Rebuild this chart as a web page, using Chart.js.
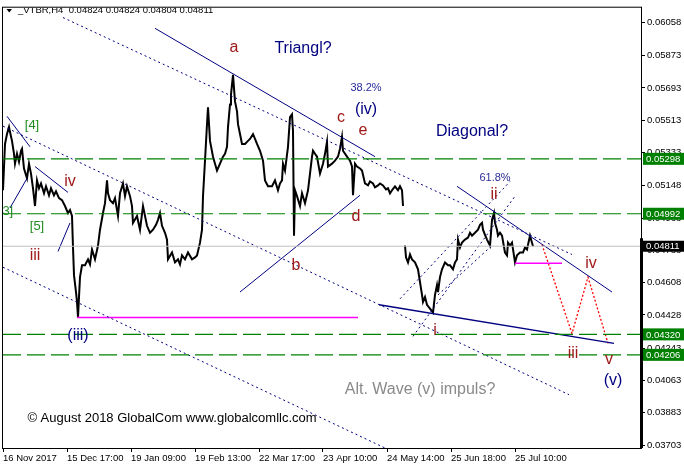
<!DOCTYPE html>
<html><head><meta charset="utf-8">
<script src="https://cdn.jsdelivr.net/npm/chart.js@4.4.1/dist/chart.umd.min.js"></script>
<style>html,body{margin:0;padding:0;background:#fff;overflow:hidden}</style>
</head><body>
<canvas id="c" width="684" height="469" style="display:block;width:684px;height:469px"></canvas>
<script>
// ---------- data ----------
const headerText = '_VTBR,H4  0.04824 0.04824 0.04804 0.04811';
const xTickIdx = [0, 64, 128, 192, 256, 320, 384, 448, 512];
const xTickLabels = ['16 Nov 2017','15 Dec 17:00','19 Jan 09:00','19 Feb 13:00','22 Mar 17:00','23 Apr 10:00','24 May 14:00','25 Jun 18:00','25 Jul 10:00'];
const yTicks = [0.06058,0.05873,0.05693,0.05513,0.05333,0.05148,0.04968,0.04788,0.04608,0.04428,0.04243,0.04063,0.03883,0.03703];

// H4 price path (bar index, price)
const priceIdx = [0,2,4,6,7,9,11,12,14,16,18,19,21,24,26,28,30,32,34,36,38,41,43,46,48,51,53,56,59,62,65,67,69,70,71,73,74,75,76,77,79,82,85,87,89,92,95,97,100,102,104,105,107,110,112,114,115,117,120,122,124,127,129,130,134,137,140,144,147,150,153,155,157,159,162,164,165,169,172,175,177,179,182,185,189,192,194,197,199,200,202,204,205,207,210,212,214,217,220,222,224,225,227,228,230,232,234,235,237,239,242,245,247,250,252,254,257,260,262,265,269,272,275,277,279,280,282,285,287,289,290,291,292,294,297,299,302,305,307,309,310,312,314,317,320,322,324,325,329,332,335,337,339,340,344,347,349,350,352,354,357,359,362,365,367,370,372,375,377,380,383,385,387,389,392,395,397,399,400,401,402,403,405,407,409,412,415,417,419,420,422,424,427,430,432,434,435,437,439,442,445,447,450,452,454,455,457,459,462,465,467,469,472,475,477,479,480,482,484,487,489,491,492,494,495,497,499,502,504,505,507,509,512,514,517,520,522,524,527,529,530];
const priceVal = [0.05123,0.05381,0.05436,0.05475,0.05447,0.05398,0.05326,0.05271,0.05326,0.05282,0.05343,0.05354,0.05244,0.05189,0.05271,0.05216,0.05134,0.05035,0.05178,0.05134,0.05161,0.05106,0.05145,0.05095,0.05134,0.05095,0.05117,0.05079,0.05068,0.05035,0.04996,0.05013,0.04980,0.04804,0.04650,0.04556,0.04501,0.04414,0.04529,0.04639,0.04705,0.04705,0.04738,0.04710,0.04793,0.04738,0.04815,0.04903,0.04996,0.05051,0.05178,0.05106,0.05068,0.05051,0.05079,0.05013,0.04980,0.05106,0.05161,0.05090,0.05145,0.05090,0.05035,0.04941,0.04980,0.04903,0.05035,0.04925,0.04886,0.04903,0.04930,0.04958,0.04996,0.04925,0.04886,0.04848,0.04738,0.04776,0.04721,0.04738,0.04710,0.04760,0.04738,0.04776,0.04738,0.04749,0.04760,0.04831,0.04903,0.05090,0.05288,0.05491,0.05585,0.05398,0.05310,0.05271,0.05233,0.05271,0.05310,0.05326,0.05365,0.05475,0.05601,0.05656,0.05766,0.05618,0.05563,0.05491,0.05436,0.05381,0.05381,0.05398,0.05409,0.05436,0.05409,0.05381,0.05343,0.05288,0.05178,0.05145,0.05145,0.05178,0.05123,0.05161,0.05178,0.05271,0.05233,0.05365,0.05530,0.05546,0.05453,0.04870,0.05123,0.05090,0.05035,0.05106,0.05051,0.05123,0.05216,0.05310,0.05343,0.05326,0.05310,0.05216,0.05271,0.05326,0.05392,0.05255,0.05271,0.05288,0.05310,0.05354,0.05420,0.05343,0.05310,0.05288,0.05255,0.05095,0.05271,0.05255,0.05244,0.05233,0.05161,0.05150,0.05172,0.05161,0.05139,0.05150,0.05161,0.05150,0.05128,0.05134,0.05106,0.05123,0.05145,0.05123,0.05145,0.05123,0.05035,null,0.04815,0.04749,0.04721,0.04765,0.04738,0.04721,0.04683,0.04611,0.04540,0.04501,0.04529,0.04485,0.04463,0.04441,0.04540,0.04595,0.04556,0.04639,0.04683,0.04721,0.04705,0.04705,0.04683,0.04721,0.04738,0.04848,0.04804,0.04831,0.04848,0.04859,0.04886,0.04870,0.04886,0.04903,0.04930,0.04941,0.04903,0.04875,0.04848,0.04815,0.04958,0.04996,0.04941,0.04903,0.04870,0.04886,0.04870,0.04776,0.04760,0.04831,0.04815,0.04831,0.04721,0.04760,0.04776,0.04776,0.04804,0.04793,0.04870,0.04831,0.04811];

// horizontal levels
const levelPrices = [0.05298, 0.04992, 0.04320, 0.04206];
const lastPrice = 0.04811;

// trend lines (bar index, price)
const lineChannelTop   = [[60, 0.06085], [569, 0.04765]];
const lineChannelMid   = [[0, 0.05480], [566, 0.03984]];
const lineChannelLow   = [[0, 0.04694], [382, 0.03687]];
const lineTriangleTop  = [[152, 0.06025], [372, 0.05310]];
const lineTriangleBase = [[237, 0.04556], [357, 0.05095]];
const lineWedgeTop     = [[454, 0.05145], [609, 0.04556]];
const lineWedgeBase    = [[376, 0.04485], [611, 0.04270]];
const lineWave4a = [[4, 0.05535], [27, 0.05365]];
const lineWave4b = [[32, 0.05255], [65, 0.05111]];
const lineWave3a = [[7, 0.05024], [24, 0.05189]];
const lineWave3b = [[55, 0.04782], [67, 0.04941]];
const lineFibA = [[397, 0.04518], [507, 0.05172]];
const lineFibB = [[410, 0.04309], [512, 0.05090]];
const lineFibC = [[435, 0.04540], [489, 0.04815]];
const supportIii   = [[74, 0.04414], [355, 0.04414]];
const supportLocal = [[512, 0.04716], [559, 0.04716]];
const projIdx = [539, 569, 585, 605];
const projVal = [0.04820, 0.04325, 0.04639, 0.04270];

// labels (text, bar index, price, kind)
const labelText  = ['a','Triangl?','38.2%','(iv)','c','e','Diagonal?','61.8%','ii','d','b','[4]','[5]','[3]','iv','iii','(iii)','i','iv','iii','v','(v)','Alt. Wave (v) impuls?'];
const labelIdx   = [231,300,363,363,338,360,469,492,491,353,293,29,34,3,67,32,75,432,588,570,606,610,417];
const labelPrice = [0.05920,0.05912,0.05695,0.05574,0.05530,0.05458,0.05452,0.05189,0.05101,0.04974,0.04705,0.05486,0.04919,0.05007,0.05172,0.04760,0.04314,0.04342,0.04716,0.04215,0.04177,0.04061,0.04012];
const labelKind  = ['red','navy','pct','navy','red','red','navy','pct','red','red','red','green','green','green','red','red','navy','red','red','red','red','navy','gray'];
const copyright = '\u00A9 August 2018 GlobalCom www.globalcomllc.com';

// ---------- chart ----------
const FONT = "'Liberation Sans', Arial, sans-serif";
const NAVY = '#000080';
const kindStyle = {
  red:   {c:'#a01818', s:16},
  navy:  {c:NAVY, s:16},
  pct:   {c:'#2a2a9a', s:11},
  green: {c:'#1e8c1e', s:13},
  gray:  {c:'#8a8a8a', s:16}
};
const pts = arr => arr.map(p => ({x:p[0], y:p[1]}));
function seg(arr, color, dash, width){
  return {data: pts(arr), borderColor: color, borderDash: dash || [], borderWidth: width || 1,
          pointRadius: 0, fill: false, tension: 0, order: 1};
}
const X_MAX = 638;
const datasets = [];
datasets.push({data: priceIdx.map((v,i)=>({x:v, y:priceVal[i]})), borderColor:'#000', borderWidth:2,
  pointRadius:0, spanGaps:false, tension:0, order:10});
datasets.push(seg([[0,lastPrice],[X_MAX,lastPrice]], '#c0c0c0', [], 1));
levelPrices.forEach(p => datasets.push(seg([[0,p],[X_MAX,p]], '#008000', [18,6], 1.2)));
const DOT = [2,3];
datasets.push(seg(lineChannelTop, NAVY, DOT));
datasets.push(seg(lineChannelMid, NAVY, DOT));
datasets.push(seg(lineChannelLow, NAVY, DOT));
datasets.push(seg(lineTriangleTop, NAVY));
datasets.push(seg(lineTriangleBase, NAVY));
datasets.push(seg(lineWedgeTop, NAVY));
datasets.push(seg(lineWedgeBase, NAVY, [], 1.3));
datasets.push(seg(lineWave4a, NAVY));
datasets.push(seg(lineWave4b, NAVY));
datasets.push(seg(lineWave3a, NAVY));
datasets.push(seg(lineWave3b, NAVY));
datasets.push(seg(lineFibA, NAVY, DOT));
datasets.push(seg(lineFibB, NAVY, DOT));
datasets.push(seg(lineFibC, NAVY, DOT));
datasets.push(seg(supportIii, '#ff00ff', [], 1.5));
datasets.push(seg(supportLocal, '#ff00ff', [], 1.5));
datasets.push({data: projIdx.map((v,i)=>({x:v, y:projVal[i]})), borderColor:'#ff0000', borderDash:[2,2],
  borderWidth:1.3, pointRadius:0, tension:0, order:1});

const decor = {
  id: 'decor',
  afterDatasetsDraw(chart){
    const {ctx, chartArea:a, scales:{x, y}} = chart;
    ctx.save();
    ctx.beginPath(); ctx.rect(a.left, a.top, a.right-a.left, a.bottom-a.top); ctx.clip();
    ctx.textAlign = 'center'; ctx.textBaseline = 'middle';
    labelText.forEach((t,i) => {
      const st = kindStyle[labelKind[i]];
      ctx.font = st.s + 'px ' + FONT; ctx.fillStyle = st.c;
      ctx.fillText(t, x.getPixelForValue(labelIdx[i]), y.getPixelForValue(labelPrice[i]));
    });
    ctx.font = '13px ' + FONT; ctx.fillStyle = '#000';
    ctx.fillText(copyright, 172, 418);
    // header
    ctx.textAlign = 'left';
    ctx.font = '9.5px ' + FONT; ctx.fillStyle = '#000';
    ctx.fillText(headerText, 18, 10.5);
    ctx.beginPath(); ctx.moveTo(6.5, 9); ctx.lineTo(12, 9); ctx.lineTo(9.25, 12.5); ctx.closePath(); ctx.fill();
    ctx.restore();
  },
  afterDraw(chart){
    const {ctx, chartArea:a, scales:{y}} = chart;
    ctx.save();
    ctx.strokeStyle = '#000'; ctx.lineWidth = 1;
    ctx.strokeRect(a.left - 0.5, a.top - 0.5, a.right - a.left + 1, a.bottom - a.top + 1);
    ctx.font = '9.5px ' + FONT; ctx.textAlign = 'left'; ctx.textBaseline = 'middle';
    // last price marker
    const yl = y.getPixelForValue(lastPrice);
    ctx.fillStyle = '#000';
    ctx.fillRect(a.right - 1, yl - 8, 3, a.bottom - yl + 8);
    ctx.fillRect(a.right, yl - 5.5, 684 - a.right, 11);
    ctx.fillStyle = '#fff';
    ctx.fillText(lastPrice.toFixed(5), a.right + 5, yl + 0.5);
    levelPrices.forEach(p => {
      const yp = y.getPixelForValue(p);
      ctx.fillStyle = '#008000';
      ctx.fillRect(a.right + 2, yp - 6, 684 - a.right - 2, 12);
      ctx.fillStyle = '#fff';
      ctx.fillText(p.toFixed(5), a.right + 5, yp + 0.5);
    });
    ctx.restore();
  }
};

new Chart(document.getElementById('c'), {
  type: 'line',
  data: { datasets },
  options: {
    responsive: false, animation: false, devicePixelRatio: 1,
    layout: { padding: { left: 3, top: 2, right: 0, bottom: 0 } },
    plugins: { legend: {display:false}, tooltip: {enabled:false} },
    scales: {
      x: {
        type: 'linear', min: 0, max: X_MAX,
        afterFit: s => { s.height = 21; },
        afterBuildTicks: s => { s.ticks = xTickIdx.map(v => ({value:v})); },
        grid: { drawOnChartArea:false, tickLength:4, color:'#000' },
        border: { display:false },
        ticks: { autoSkip:false, maxRotation:0, align:'start', padding:1, color:'#000',
                 font:{family:FONT, size:9.5},
                 callback: v => { const i = xTickIdx.indexOf(v); return i >= 0 ? xTickLabels[i] : ''; } }
      },
      y: {
        position: 'right', min: 0.03687, max: 0.06140,
        afterFit: s => { s.width = 43; },
        afterBuildTicks: s => { s.ticks = yTicks.map(v => ({value:v})); },
        grid: { drawOnChartArea:false, tickLength:4, color:'#000' },
        border: { display:false },
        ticks: { autoSkip:false, padding:2, color:'#000', font:{family:FONT, size:9.5},
                 callback: v => Number(v).toFixed(5) }
      }
    }
  },
  plugins: [decor]
});
</script>
</body></html>
